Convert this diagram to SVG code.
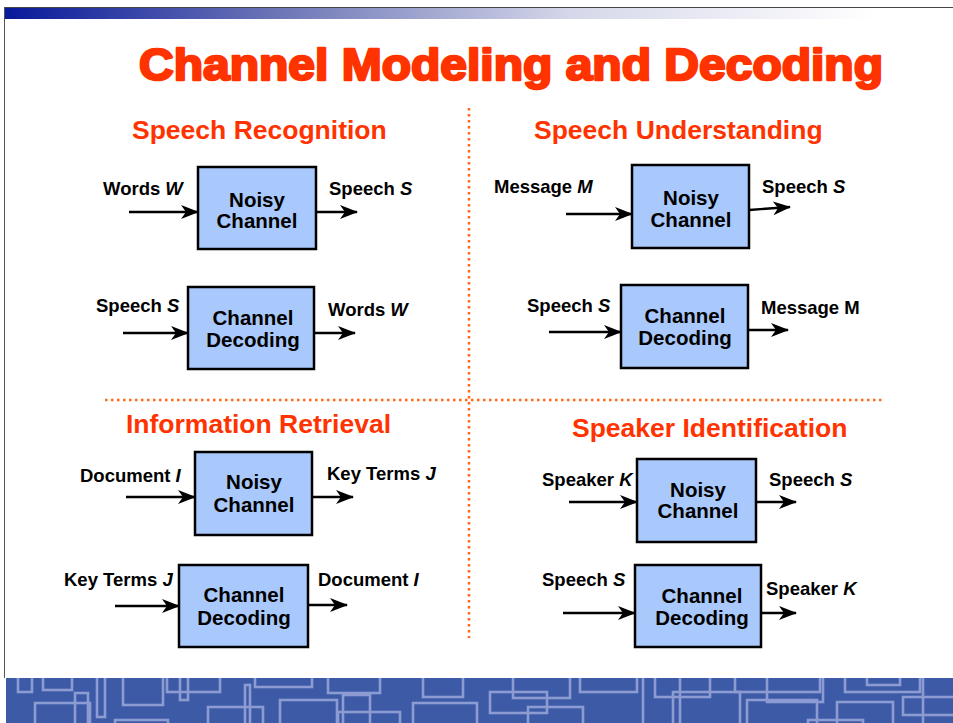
<svg xmlns="http://www.w3.org/2000/svg" width="953" height="723" viewBox="0 0 953 723">
<defs>
<linearGradient id="topbar" x1="0" y1="0" x2="1" y2="0">
<stop offset="0" stop-color="#08199a"/>
<stop offset="0.3" stop-color="#7079b8"/>
<stop offset="0.6" stop-color="#d6d8ea"/>
<stop offset="0.92" stop-color="#ffffff"/>
</linearGradient>
<clipPath id="band"><rect x="6" y="678" width="947" height="45"/></clipPath>
<marker id="ah" markerUnits="userSpaceOnUse" viewBox="0 0 18 14" markerWidth="18" markerHeight="14" refX="17" refY="7" orient="auto">
<path d="M0,0 L18,7 L0,14 L5,7 Z" fill="#000"/>
</marker>
</defs>
<style>
.title{font-family:"Liberation Sans",Arial,sans-serif;font-weight:bold;fill:#ff3300;stroke:#ff3300;stroke-width:2.4;stroke-linejoin:round;font-size:44px}
.sec{font-family:"Liberation Sans",Arial,sans-serif;font-weight:bold;fill:#ff3300;font-size:26.5px}
.lbl{font-family:"Liberation Sans",Arial,sans-serif;font-weight:bold;fill:#000;font-size:18.5px}
.box{fill:#a9c8fb;stroke:#000;stroke-width:2.5}
.bt{font-family:"Liberation Sans",Arial,sans-serif;font-weight:bold;fill:#000;font-size:20.5px;text-anchor:middle}
.arr{stroke:#000;stroke-width:2.4;fill:none}
.dot{stroke:#ff6a1a;stroke-width:2.5;stroke-dasharray:2.5 3.5;fill:none}
.pat{fill:none;stroke:#8d9bd3;stroke-width:2.6}
</style>
<rect width="953" height="723" fill="#ffffff"/>
<!-- top decoration -->
<rect x="4" y="8" width="949" height="11" fill="url(#topbar)"/>
<line x1="4" y1="7.5" x2="953" y2="7.5" stroke="#444" stroke-width="1"/>
<line x1="4.5" y1="7" x2="4.5" y2="678" stroke="#555" stroke-width="1"/>
<!-- bottom band -->
<rect x="6" y="678" width="947" height="45" fill="#3c5aa6"/>
<g clip-path="url(#band)" class="pat">
<rect x="18" y="670" width="14" height="22"/>
<rect x="35" y="703" width="55" height="30"/>
<rect x="43" y="670" width="29" height="20"/>
<rect x="75" y="693" width="13" height="40"/>
<rect x="97" y="670" width="8" height="47"/>
<rect x="123" y="670" width="40" height="35"/>
<rect x="115" y="720" width="53" height="20"/>
<rect x="167" y="670" width="53" height="22"/>
<rect x="180" y="670" width="8" height="30"/>
<rect x="208" y="707" width="55" height="30"/>
<rect x="245" y="685" width="5" height="45"/>
<rect x="255" y="670" width="57" height="17"/>
<rect x="280" y="700" width="57" height="30"/>
<rect x="328" y="670" width="52" height="23"/>
<rect x="338" y="712" width="62" height="20"/>
<rect x="343" y="695" width="27" height="35"/>
<rect x="423" y="670" width="40" height="27"/>
<rect x="413" y="703" width="64" height="30"/>
<rect x="490" y="692" width="57" height="21"/>
<rect x="513" y="670" width="57" height="28"/>
<rect x="528" y="707" width="55" height="30"/>
<rect x="580" y="670" width="57" height="22"/>
<rect x="643" y="670" width="37" height="60"/>
<rect x="655" y="670" width="55" height="27"/>
<rect x="673" y="692" width="67" height="40"/>
<rect x="735" y="670" width="85" height="22"/>
<rect x="747" y="700" width="70" height="30"/>
<rect x="767" y="670" width="56" height="32"/>
<rect x="808" y="720" width="55" height="20"/>
<rect x="845" y="670" width="75" height="22"/>
<rect x="837" y="702" width="56" height="30"/>
<rect x="867" y="670" width="33" height="15"/>
<rect x="903" y="697" width="60" height="18"/>
<rect x="923" y="670" width="40" height="60"/>
</g>
<!-- titles -->
<text class="title" x="139" y="80" textLength="744" lengthAdjust="spacingAndGlyphs">Channel Modeling and Decoding</text>
<text class="sec" x="132" y="139">Speech Recognition</text>
<text class="sec" x="534" y="139">Speech Understanding</text>
<text class="sec" x="126" y="433">Information Retrieval</text>
<text class="sec" x="572" y="437">Speaker Identification</text>
<!-- dividers -->
<line class="dot" x1="469" y1="108" x2="469" y2="638"/>
<line class="dot" x1="105" y1="400" x2="885" y2="400"/>
<!-- connectors -->
<g id="connectors">
<line class="arr" marker-end="url(#ah)" x1="129" y1="212" x2="198" y2="212"/>
<line class="arr" marker-end="url(#ah)" x1="316" y1="212" x2="357" y2="212"/>
<line class="arr" marker-end="url(#ah)" x1="123" y1="333" x2="188" y2="333"/>
<line class="arr" marker-end="url(#ah)" x1="314" y1="333" x2="355" y2="333"/>
<line class="arr" marker-end="url(#ah)" x1="566" y1="214" x2="632" y2="214"/>
<line class="arr" marker-end="url(#ah)" x1="749" y1="210" x2="790" y2="207"/>
<line class="arr" marker-end="url(#ah)" x1="549" y1="332" x2="621" y2="332"/>
<line class="arr" marker-end="url(#ah)" x1="748" y1="330" x2="788" y2="330"/>
<line class="arr" marker-end="url(#ah)" x1="126" y1="497" x2="195" y2="497"/>
<line class="arr" marker-end="url(#ah)" x1="312" y1="497" x2="353" y2="497"/>
<line class="arr" marker-end="url(#ah)" x1="115" y1="606" x2="179" y2="606"/>
<line class="arr" marker-end="url(#ah)" x1="308" y1="605" x2="347" y2="605"/>
<line class="arr" marker-end="url(#ah)" x1="569" y1="502" x2="637" y2="502"/>
<line class="arr" marker-end="url(#ah)" x1="756" y1="502" x2="796" y2="502"/>
<line class="arr" marker-end="url(#ah)" x1="563" y1="613" x2="635" y2="613"/>
<line class="arr" marker-end="url(#ah)" x1="756" y1="613" x2="796" y2="613"/>
</g>
<!-- Speech Recognition -->
<g id="sr-noisy">
<rect class="box" x="198" y="167" width="118" height="82"/>
<text class="bt" x="257" y="207">Noisy</text>
<text class="bt" x="257" y="228">Channel</text>
</g>
<g id="sr-noisy-labels">
<text class="lbl" x="103" y="195">Words <tspan font-style="italic">W</tspan></text>
<text class="lbl" x="329" y="195">Speech <tspan font-style="italic">S</tspan></text>
</g>
<g id="sr-decoding">
<rect class="box" x="188" y="287" width="126" height="82"/>
<text class="bt" x="253" y="325">Channel</text>
<text class="bt" x="253" y="347">Decoding</text>
</g>
<g id="sr-decoding-labels">
<text class="lbl" x="96" y="312">Speech <tspan font-style="italic">S</tspan></text>
<text class="lbl" x="328" y="316">Words <tspan font-style="italic">W</tspan></text>
</g>
<!-- Speech Understanding -->
<g id="su-noisy">
<rect class="box" x="632" y="165" width="117" height="83"/>
<text class="bt" x="691" y="205">Noisy</text>
<text class="bt" x="691" y="227">Channel</text>
</g>
<g id="su-noisy-labels">
<text class="lbl" x="494" y="193">Message <tspan font-style="italic">M</tspan></text>
<text class="lbl" x="762" y="193">Speech <tspan font-style="italic">S</tspan></text>
</g>
<g id="su-decoding">
<rect class="box" x="621" y="285" width="127" height="83"/>
<text class="bt" x="685" y="323">Channel</text>
<text class="bt" x="685" y="345">Decoding</text>
</g>
<g id="su-decoding-labels">
<text class="lbl" x="527" y="312">Speech <tspan font-style="italic">S</tspan></text>
<text class="lbl" x="761" y="314">Message M</text>
</g>
<!-- Information Retrieval -->
<g id="ir-noisy">
<rect class="box" x="195" y="452" width="117" height="83"/>
<text class="bt" x="254" y="489">Noisy</text>
<text class="bt" x="254" y="512">Channel</text>
</g>
<g id="ir-noisy-labels">
<text class="lbl" x="80" y="482">Document <tspan font-style="italic">I</tspan></text>
<text class="lbl" x="327" y="480">Key Terms <tspan font-style="italic">J</tspan></text>
</g>
<g id="ir-decoding">
<rect class="box" x="179" y="565" width="129" height="82"/>
<text class="bt" x="244" y="602">Channel</text>
<text class="bt" x="244" y="625">Decoding</text>
</g>
<g id="ir-decoding-labels">
<text class="lbl" x="64" y="586">Key Terms <tspan font-style="italic">J</tspan></text>
<text class="lbl" x="318" y="586">Document <tspan font-style="italic">I</tspan></text>
</g>
<!-- Speaker Identification -->
<g id="si-noisy">
<rect class="box" x="637" y="459" width="119" height="83"/>
<text class="bt" x="698" y="497">Noisy</text>
<text class="bt" x="698" y="518">Channel</text>
</g>
<g id="si-noisy-labels">
<text class="lbl" x="542" y="486">Speaker <tspan font-style="italic">K</tspan></text>
<text class="lbl" x="769" y="486">Speech <tspan font-style="italic">S</tspan></text>
</g>
<g id="si-decoding">
<rect class="box" x="635" y="565" width="126" height="82"/>
<text class="bt" x="702" y="603">Channel</text>
<text class="bt" x="702" y="625">Decoding</text>
</g>
<g id="si-decoding-labels">
<text class="lbl" x="542" y="586">Speech <tspan font-style="italic">S</tspan></text>
<text class="lbl" x="766" y="595">Speaker <tspan font-style="italic">K</tspan></text>
</g>
</svg>
